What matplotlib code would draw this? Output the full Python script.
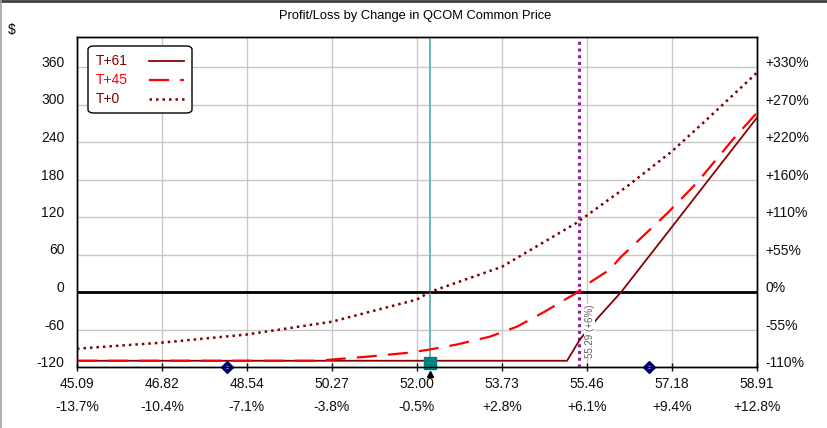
import matplotlib
matplotlib.use('Agg')
import matplotlib.pyplot as plt
from matplotlib.lines import Line2D
from matplotlib.patches import FancyBboxPatch

plt.rcParams['font.family'] = ['Liberation Sans', 'DejaVu Sans']

# ── 数据 ──────────────────────────────────────────────
x_ticks = [45.09, 46.82, 48.54, 50.27, 52.00, 53.73, 55.46, 57.18, 58.91]
x_pct = ['-13.7%', '-10.4%', '-7.1%', '-3.8%', '-0.5%', '+2.8%', '+6.1%', '+9.4%', '+12.8%']
y_ticks = [-120, -60, 0, 60, 120, 180, 240, 300, 360]
y_pct = ['-110%', '-55%', '0%', '+55%', '+110%', '+160%', '+220%', '+270%', '+330%']

t61_x = [45.09, 55.05, 55.31, 55.68, 56.15, 57.18, 58.91]
t61_y = [-110, -110, -76, -41, 0, 104, 279]

t45_x = [45.09, 49.97, 50.98, 51.86, 52.26, 52.81, 53.48, 54.03, 54.56, 55.25,
         55.45, 55.92, 56.13, 57.10, 57.69, 58.42, 58.91]
t45_y = [-110, -110, -103.5, -97, -92, -84, -71.5, -55.5, -33, -1,
         12, 36, 55, 127, 175, 244, 287]

t0_x = [45.09, 46.82, 48.54, 50.27, 52.00, 52.26, 53.73, 55.25, 56.27, 57.18, 57.89, 58.91]
t0_y = [-90.7, -81, -68, -47.5, -12, 0, 40.5, 111, 169, 225, 276, 351]

series_names = ['T+61', 'T+45', 'T+0']

current_price = 52.26
breakeven = 55.29
breakeven_label = '55.29 (+6%)'
diamond_x = [48.14, 56.72]

W, H = 828, 428

# ── 画图 ──────────────────────────────────────────────
fig = plt.figure(figsize=(W / 100, H / 100), dpi=100)
ax = fig.add_axes([77 / W, 61 / H, 680 / W, 330 / H])

ax.set_xlim(45.09, 58.91)
ax.set_ylim(-120, 408)
ax.grid(True, color='#c8c8c8', lw=1)
ax.set_axisbelow(True)

ax.axhline(0, color='black', lw=2, zorder=2)
ax.axvline(current_price, color='#5fb0b0', lw=1.3, zorder=3)
ax.axvline(breakeven, color='#9020a0', lw=2.2, ls=(0, (1, 1.2)), zorder=3)

styles = [
    dict(color='#8b0000', lw=1.3, ls='-'),
    dict(color='#ff0000', lw=1.6, ls=(0, (9, 5))),
    dict(color='#800000', lw=1.8, ls=(0, (1, 1.6))),
]
for xs, ys, st in zip([t61_x, t45_x, t0_x], [t61_y, t45_y, t0_y], styles):
    ax.plot(xs, ys, zorder=4, **st)

ax.text(breakeven + 0.22, -106, breakeven_label, rotation=90, ha='center', va='bottom',
        fontsize=7, color='#606060', zorder=5,
        bbox=dict(facecolor='white', edgecolor='none', pad=0.5))

# 标记
ax.plot(diamond_x, [-120] * len(diamond_x), 'D', color='#000080', ms=6.5,
        clip_on=False, zorder=6)
ax.plot(diamond_x, [-120] * len(diamond_x), 'o', color='#8080c0', ms=1.5,
        clip_on=False, zorder=7)
ax.plot([current_price], [-113], 's', color='#008080', ms=8, clip_on=False, zorder=6)
ax.plot([current_price], [-131], '^', color='black', ms=5, clip_on=False, zorder=6)

# 坐标轴
ax.set_xticks(x_ticks)
ax.set_xticklabels([f'{p:.2f}\n{q}' for p, q in zip(x_ticks, x_pct)])
for lbl in ax.get_xticklabels():
    lbl.set_linespacing(1.8)
ax.tick_params(axis='x', direction='inout', length=6, width=1, pad=4,
               labelsize=10, colors='#101010')

ax.set_yticks(y_ticks)
ax.set_yticklabels([str(v) for v in y_ticks])
ax.tick_params(axis='y', length=0, pad=9, labelsize=10, colors='#101010')
for lbl in ax.get_yticklabels():
    lbl.set_va('baseline')

ax2 = ax.twinx()
ax2.set_ylim(ax.get_ylim())
ax2.set_yticks(y_ticks)
ax2.set_yticklabels(y_pct)
ax2.tick_params(axis='y', length=0, pad=6, labelsize=10, colors='#101010')
for lbl in ax2.get_yticklabels():
    lbl.set_va('baseline')

for a in (ax, ax2):
    for s in a.spines.values():
        s.set_color('black')
        s.set_linewidth(1)

# 图例（手工画，文字左对齐、线样在右）
def px(x, y):
    return x / W, 1 - y / H

box = FancyBboxPatch(px(88, 113), 104 / W, 67 / H,
                     boxstyle='round,pad=0,rounding_size=0.008',
                     transform=fig.transFigure, facecolor='white',
                     edgecolor='black', lw=1, zorder=10)
fig.add_artist(box)
for i, (name, st) in enumerate(zip(series_names, styles)):
    yy = 61 + i * 19
    fig.text(*px(96, yy), name, ha='left', va='center', fontsize=10,
             color=st['color'], zorder=11)
    fig.add_artist(Line2D([149 / W, 184 / W], [1 - yy / H] * 2,
                          transform=fig.transFigure, zorder=11, **st))

fig.text(415 / W, 1 - 16 / H, 'Profit/Loss by Change in QCOM Common Price',
         ha='center', va='center', fontsize=9.3)
fig.text(8 / W, 1 - 30 / H, '$', ha='left', va='center', fontsize=10)

# 外框
fig.add_artist(Line2D([0, 1], [0.997, 0.997], transform=fig.transFigure,
                      color='#404040', lw=2))
fig.add_artist(Line2D([0.001, 0.001], [0, 1], transform=fig.transFigure,
                      color='#a0a0a0', lw=1.2))

fig.savefig('out.png', dpi=100)
